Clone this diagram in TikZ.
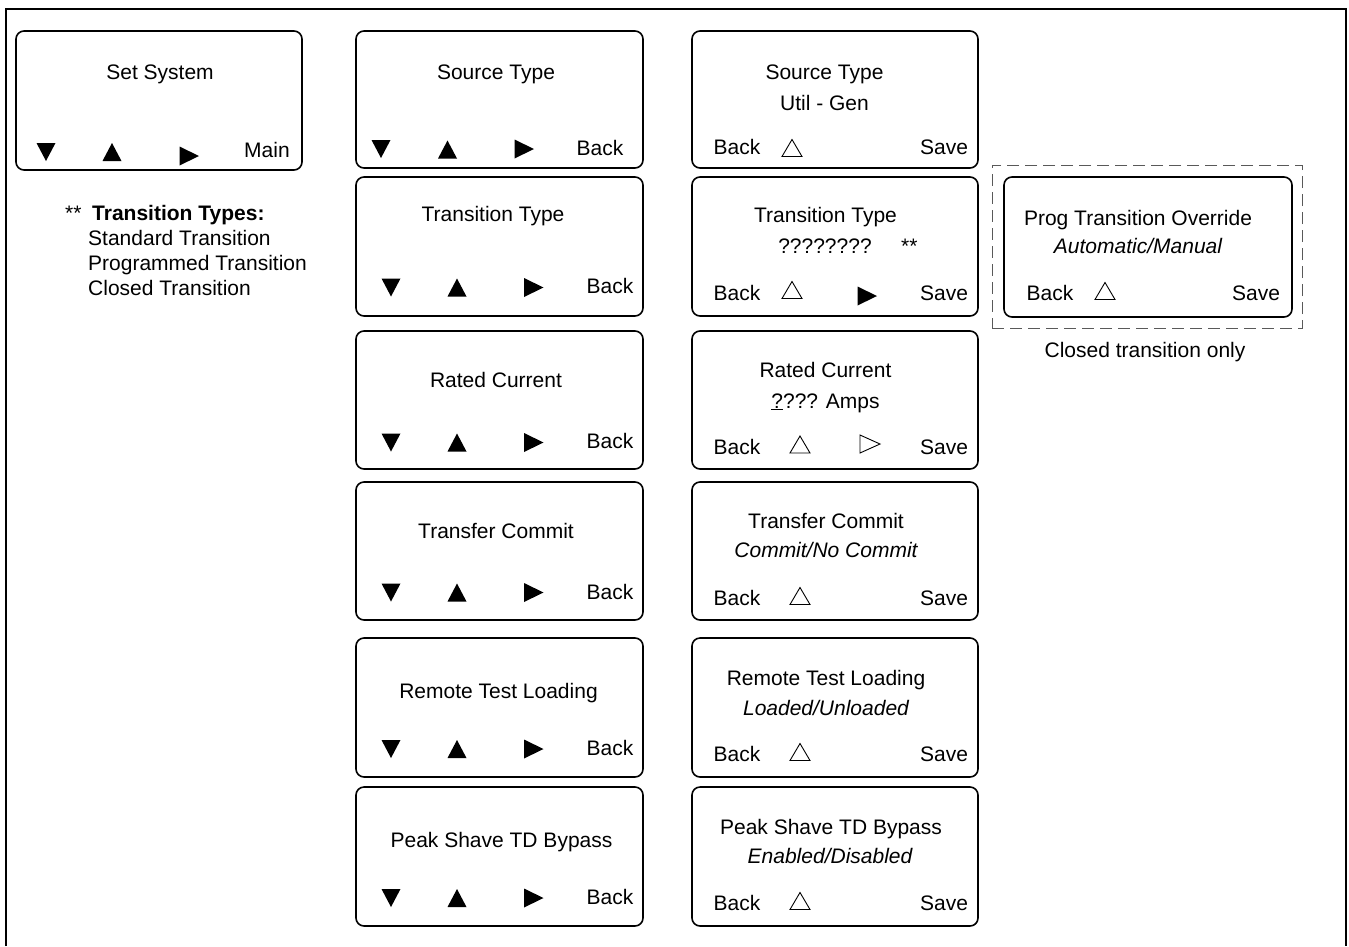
\documentclass[tikz,border=0pt]{standalone}
\usepackage{fontspec}
\setmainfont{Liberation Sans}
\newcommand\fs{\fontsize{21}{25}\selectfont}
\begin{document}
\begin{tikzpicture}[x=1pt,y=-1pt,
  scr/.style={draw, rounded corners=8pt, line width=1.6pt, inner sep=0pt},
  lbl/.style={inner sep=0pt, anchor=base, font=\fs},
  lbll/.style={inner sep=0pt, anchor=base west, font=\fs},
  tdn/.pic={\fill (-9.5,-9) -- (9.5,-9) -- (0,9) -- cycle;},
  tup/.pic={\fill (-9.5,9) -- (9.5,9) -- (0,-9) -- cycle;},
  trt/.pic={\fill (-9.5,-9.5) -- (-9.5,9.5) -- (10,0) -- cycle;},
  otup/.pic={\draw[line width=0.9pt, line join=miter] (-10,8.5) -- (10,8.5) -- (0,-8.5) -- cycle;},
  otrt/.pic={\draw[line width=0.9pt, line join=miter] (-9,-9) -- (-9,9) -- (11,0) -- cycle;}
]
\useasboundingbox (0,0) rectangle (1349,946);
% outer frame
\draw[line width=2pt] (6,946) -- (6,9) -- (1346,9) -- (1346,946);

% ---------- Set System ----------
\node[scr, minimum width=286, minimum height=139] (ss) at (159,100.5) {};
\node[lbl] (ssT) at (160,79) {Set System};
\pic at (46,152) {tdn};
\pic at (112,152) {tup};
\pic at (189,156) {trt};
\node[lbl] (ssM) at (267,157) {Main};

% legend
\node[lbll] (lgA) at (65,220) {**};
\node[lbll, font=\fs\bfseries] (lgB) at (92,220) {Transition Types:};
\node[lbll] (lg1) at (88,245) {Standard Transition};
\node[lbll] (lg2) at (88,270) {Programmed Transition};
\node[lbll] (lg3) at (88,295) {Closed Transition};

% ---------- Column 2 ----------
\node[scr, minimum width=287, minimum height=137] (a1) at (499.5,99.5) {};
\node[scr, minimum width=287, minimum height=139] (a2) at (499.5,246.5) {};
\node[scr, minimum width=287, minimum height=138] (a3) at (499.5,400) {};
\node[scr, minimum width=287, minimum height=138] (a4) at (499.5,551) {};
\node[scr, minimum width=287, minimum height=139] (a5) at (499.5,707.5) {};
\node[scr, minimum width=287, minimum height=139] (a6) at (499.5,856.5) {};

\node[lbl] (a1T) at (496,79) {Source Type};
\pic at (381,149) {tdn};
\pic at (447.5,149.5) {tup};
\pic at (524,149) {trt};
\node[lbl] (a1B) at (600,155) {Back};

\node[lbl] (a2T) at (493,221) {Transition Type};
\node[lbl] (a3T) at (496,387) {Rated Current};
\node[lbl] (a4T) at (496,538) {Transfer Commit};
\node[lbl] (a5T) at (498.5,698) {Remote Test Loading};
\node[lbl] (a6T) at (501.5,847) {Peak Shave TD Bypass};
\foreach \yc/\yb/\nm in {287.5/293/a2B, 442.5/448/a3B, 592.5/599/a4B, 749/755/a5B, 898/904/a6B}{
  \pic at (391,\yc) {tdn};
  \pic at (457,\yc) {tup};
  \pic at (533.5,\yc) {trt};
  \node[lbl] (\nm) at (610,\yb) {Back};
}

% ---------- Column 3 ----------
\node[scr, minimum width=286, minimum height=137] (b1) at (835,99.5) {};
\node[scr, minimum width=286, minimum height=139] (b2) at (835,246.5) {};
\node[scr, minimum width=286, minimum height=138] (b3) at (835,400) {};
\node[scr, minimum width=286, minimum height=138] (b4) at (835,551) {};
\node[scr, minimum width=286, minimum height=139] (b5) at (835,707.5) {};
\node[scr, minimum width=286, minimum height=139] (b6) at (835,856.5) {};

\node[lbl] (b1T) at (824.5,79) {Source Type};
\node[lbl] (b1V) at (824.5,110) {Util -\ Gen};
\node[lbl] (b1B) at (737,154) {Back};
\pic at (792,148) {otup};
\node[lbl] (b1S) at (944,154) {Save};

\node[lbl] (b2T) at (825.5,222) {Transition Type};
\node[lbl] (b2V) at (825,253) {????????};
\node[lbll] (b2X) at (901,253) {**};
\node[lbl] (b2B) at (737,300) {Back};
\pic at (792,290) {otup};
\pic at (867,296) {trt};
\node[lbl] (b2S) at (944,300) {Save};

\node[lbl] (b3T) at (825.5,377) {Rated Current};
\node[lbl] (b3V) at (825.5,408) {\underline{?}??? Amps};
\node[lbl] (b3B) at (737,454) {Back};
\pic at (800,444.5) {otup};
\pic at (869,444) {otrt};
\node[lbl] (b3S) at (944,454) {Save};

\node[lbl] (b4T) at (826,528) {Transfer Commit};
\node[lbl, font=\fs\itshape] (b4V) at (826,557) {Commit/No Commit};
\node[lbl] (b4B) at (737,605) {Back};
\pic at (800,596) {otup};
\node[lbl] (b4S) at (944,605) {Save};

\node[lbl] (b5T) at (826,685) {Remote Test Loading};
\node[lbl, font=\fs\itshape] (b5V) at (826,715) {Loaded/Unloaded};
\node[lbl] (b5B) at (737,761) {Back};
\pic at (800,752) {otup};
\node[lbl] (b5S) at (944,761) {Save};

\node[lbl] (b6T) at (831,834) {Peak Shave TD Bypass};
\node[lbl, font=\fs\itshape] (b6V) at (830,863) {Enabled/Disabled};
\node[lbl] (b6B) at (737,910) {Back};
\pic at (800,901) {otup};
\node[lbl] (b6S) at (944,910) {Save};

% ---------- Prog Transition Override ----------
\node[draw, gray!70!black, dash pattern=on 12pt off 6pt, line width=1pt, inner sep=0pt,
      minimum width=310, minimum height=163] (dz) at (1147,246.5) {};
\node[scr, minimum width=288, minimum height=140] (pt) at (1148,247) {};
\node[lbl] (ptT) at (1138,225) {Prog Transition Override};
\node[lbl, font=\fs\itshape] (ptV) at (1138,253) {Automatic/Manual};
\node[lbl] (ptB) at (1050,300) {Back};
\pic at (1105,291) {otup};
\node[lbl] (ptS) at (1256,300) {Save};
\node[lbl] (ptN) at (1145,357) {Closed transition only};
\end{tikzpicture}
\end{document}
